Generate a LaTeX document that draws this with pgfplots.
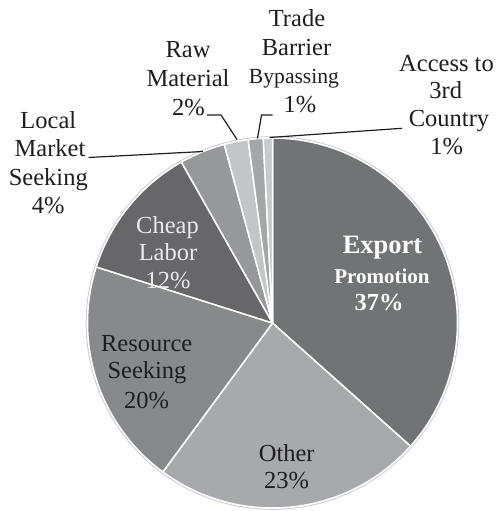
\documentclass[border=0pt]{standalone}
\usepackage{pgfplots}
\pgfplotsset{compat=1.18}
\usepackage{fontspec}
\setmainfont{Liberation Serif}
\definecolor{cExp}{HTML}{727377}
\definecolor{cOth}{HTML}{A8A9AD}
\definecolor{cRes}{HTML}{88898D}
\definecolor{cChe}{HTML}{67676B}
\definecolor{cLoc}{HTML}{97989C}
\definecolor{cRaw}{HTML}{C4C5C8}
\definecolor{cTra}{HTML}{A5A6A9}
\definecolor{cAcc}{HTML}{C9CACD}
\definecolor{txt}{HTML}{1E1E1E}
% pie centre and radius (picture units)
\def\cx{272.5}\def\cy{323}\def\R{185}
% slice from cumulative percent #1 to #2, clockwise from 12 o'clock
\newcommand\pieslice[3]{%
  \pgfmathsetmacro\aS{90-3.6*#2}\pgfmathsetmacro\aE{90-3.6*#1}%
  \edef\tmp{\noexpand\addplot[fill=#3, draw=white, line width=1.5pt, line join=round,
    domain=\aS:\aE, samples=90, variable=\noexpand\t]
    ({\cx+\R*cos(\noexpand\t)},{\cy-\R*sin(\noexpand\t)}) -- (axis cs:\cx,\cy) -- cycle;}%
  \tmp}
\newcommand\lbl[4][]{\node[anchor=base, inner sep=0pt, text=txt, font=\fontsize{24.5}{28}\selectfont, #1] at (axis cs:#2,#3) {#4};}
\begin{document}
\begin{tikzpicture}
\begin{axis}[x=1pt, y=1pt, xmin=0, xmax=495, ymin=0, ymax=511, y dir=reverse,
  scale only axis, hide axis, clip=false]
\path (axis cs:0,0) rectangle (axis cs:495,511);
% outer faint rim
\addplot[draw=black!20, line width=1pt, domain=0:360, samples=181, variable=\t]
  ({\cx+186.3*cos(\t)},{\cy-186.3*sin(\t)});
% shares (percent): Export 36.6, Other 23.5, Resource 19.8, Cheap 11.9,
% Local 4.0, Raw 2.1, Trade 1.3, Access 0.8  -> cumulative bounds
\pieslice{0}{36.6}{cExp}
\pieslice{36.6}{60.1}{cOth}
\pieslice{60.1}{79.9}{cRes}
\pieslice{79.9}{91.8}{cChe}
\pieslice{91.8}{95.8}{cLoc}
\pieslice{95.8}{97.9}{cRaw}
\pieslice{97.9}{99.2}{cTra}
\pieslice{99.2}{100}{cAcc}
% leader lines
\addplot[txt, line width=1.2pt] coordinates {(88.5,157.5) (203,151.5)};
\addplot[txt, line width=1.2pt] coordinates {(207,115) (221,115) (237,139.5)};
\addplot[txt, line width=1.2pt] coordinates {(272.5,115) (261.5,115) (257.5,138.5)};
\addplot[txt, line width=1.2pt] coordinates {(402,128.3) (269.5,137.5)};
% labels
\lbl[text=white]{382.5}{253.5}{\bfseries\fontsize{26.5}{28}\selectfont Export}
\lbl[text=white]{382}{283.3}{\bfseries\fontsize{21}{24}\selectfont Promotion}
\lbl[text=white]{379}{310}{\bfseries 37\%}
\lbl{286.7}{461}{Other}
\lbl{286.7}{488.5}{23\%}
\lbl{146.7}{351.7}{Resource}
\lbl{147}{378.5}{Seeking}
\lbl{146.7}{408.3}{20\%}
\lbl[text=black!8]{167.5}{233}{Cheap}
\lbl[text=black!8]{168}{260}{Labor}
\lbl[text=black!8]{168}{288}{12\%}
\lbl{48.3}{128.3}{Local}
\lbl{50}{156.7}{Market}
\lbl{48.3}{185}{Seeking}
\lbl{48.3}{213.3}{4\%}
\lbl{188}{57}{Raw}
\lbl{188}{86.5}{Material}
\lbl{188.5}{115}{2\%}
\lbl{297}{27}{Trade}
\lbl{296.5}{55.5}{Barrier}
\lbl{294}{83.5}{\fontsize{21.6}{26}\selectfont Bypassing}
\lbl{300}{112}{1\%}
\lbl{446.5}{71.7}{Access to}
\lbl{445.8}{98.5}{3rd}
\lbl{449}{126.7}{Country}
\lbl{446.7}{154}{1\%}
\end{axis}
\end{tikzpicture}
\end{document}
